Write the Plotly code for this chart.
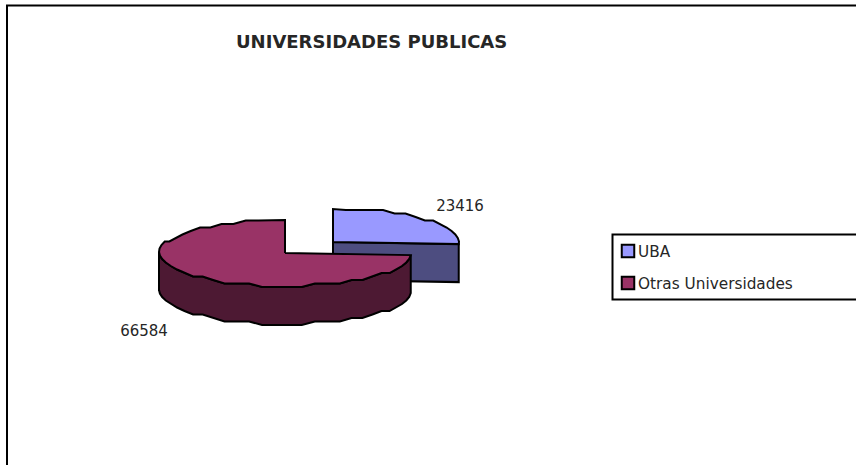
import numpy as np
import plotly.graph_objects as go

# --- data ---
categories = ["UBA", "Otras Universidades"]
values = [23416, 66584]
title_text = "UNIVERSIDADES PUBLICAS"

# --- styles ---
top_colors = ["#9999FF", "#993366"]
side_colors = ["#4D4D80", "#4D1933"]
FONT = "DejaVu Sans"
TEXT = "#262626"
W, H = 856, 465
centers = [(333, 242), (285, 253)]
RX, RY, DEPTH = 126, 33, 38
label_pos = [(460, 207), (144, 332)]
legend_box = (612.5, 234.5, 900, 299.5)
legend_y = [251, 283]
legend_text_y = [253, 285]

fracs = np.array(values) / sum(values)
ends = np.cumsum(fracs) * 360
starts = ends - fracs * 360


def arc(cx, cy, a0, a1):
    """Coarse, stair-stepped arc as in the low-resolution original (angles clockwise from 12 o'clock)."""
    n = max(2, int(round((a1 - a0) / 6)))
    deg = np.linspace(a0, a1, n + 1)
    deg = np.unique(np.r_[deg, [d for d in (90, 180, 270) if a0 < d < a1]])
    a = np.radians(deg)
    x = cx + RX * np.sin(a)
    y = cy - RY * np.cos(a)
    y[1:-1] = np.round(y[1:-1] / 3.5) * 3.5
    return deg, x, y


fig = go.Figure()


def poly(x, y, color):
    fig.add_trace(go.Scatter(x=x, y=y, mode="lines", fill="toself", fillcolor=color,
                             line=dict(color="black", width=2), showlegend=False,
                             hoverinfo="skip"))


for i in range(2):
    cx, cy = centers[i]
    deg, x_top, y_top = arc(cx, cy, starts[i], ends[i])
    if i == 0:
        # radial cut face seen from the front
        ex, ey = x_top[-1], y_top[-1]
        poly([cx, ex, ex, cx, cx], [cy, ey, ey + DEPTH, cy + DEPTH, cy], side_colors[i])
    else:
        # outer wall: the part of the rim facing the viewer
        keep = deg <= 270
        fx, fy = x_top[keep], y_top[keep]
        poly(np.r_[fx, fx[::-1], fx[0]], np.r_[fy, fy[::-1] + DEPTH, fy[0]], side_colors[i])
    poly(np.r_[cx, x_top, cx], np.r_[cy, y_top, cy], top_colors[i])

# data labels
fig.add_trace(go.Scatter(x=[p[0] for p in label_pos], y=[p[1] for p in label_pos],
                         mode="text", text=[str(v) for v in values],
                         textfont=dict(family=FONT, size=15, color=TEXT),
                         showlegend=False, hoverinfo="skip"))

# legend entries
fig.add_trace(go.Scatter(x=[628, 628], y=legend_y, mode="markers",
                         marker=dict(symbol="square", size=12.5, color=top_colors,
                                     line=dict(color="black", width=2)),
                         showlegend=False, hoverinfo="skip"))
fig.add_trace(go.Scatter(x=[638, 638], y=legend_text_y, mode="text", text=categories,
                         textposition="middle right",
                         textfont=dict(family=FONT, size=15.3, color=TEXT),
                         showlegend=False, hoverinfo="skip"))

fig.update_layout(
    width=W, height=H, margin=dict(l=0, r=0, t=0, b=0),
    paper_bgcolor="white", plot_bgcolor="white",
    xaxis=dict(range=[0, W], visible=False, fixedrange=True),
    yaxis=dict(range=[H, 0], visible=False, fixedrange=True),
    shapes=[
        dict(type="rect", xref="x", yref="y", x0=7, y0=5.5, x1=W + 40, y1=H + 40,
             line=dict(color="black", width=2), layer="below"),
        dict(type="rect", xref="x", yref="y", x0=legend_box[0], y0=legend_box[1],
             x1=legend_box[2], y1=legend_box[3], line=dict(color="black", width=2),
             layer="below"),
    ],
    annotations=[dict(text=f"<b>{title_text}</b>", x=371, y=41.5, xref="x", yref="y",
                      showarrow=False, xanchor="center", yanchor="middle",
                      font=dict(family=FONT, size=18, color=TEXT))],
)
fig.write_html("out.html", config=dict(displayModeBar=False),
               post_script="document.body.style.margin='0';")
